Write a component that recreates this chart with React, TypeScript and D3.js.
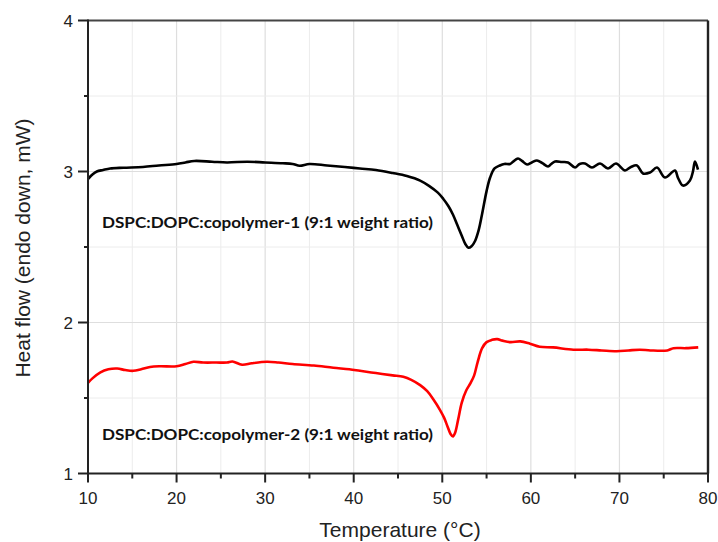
import React from "react";
import * as d3 from "d3";

const xTicks = [10, 20, 30, 40, 50, 60, 70, 80];
const xMinorTicks = [15, 25, 35, 45, 55, 65, 75];
const yTicks = [1, 2, 3, 4];
const yMinorTicks = [1.5, 2.5, 3.5];

const blackX = [10.0, 10.5, 11.0, 11.7, 12.5, 14.0, 16.2, 18.0, 20.0, 21.0, 22.0, 24.0, 25.7, 28.0, 30.0, 32.0, 33.1, 33.9, 35.0, 37.0, 39.0, 40.7, 42.5, 44.4, 46.0, 47.5, 48.5, 49.5, 50.1, 50.7, 51.2, 51.7, 52.2, 52.6, 52.95, 53.3, 53.7, 54.1, 54.5, 55.0, 55.4, 55.9, 56.5, 57.0, 57.65, 58.0, 58.55, 59.0, 59.57, 60.1, 60.69, 61.3, 61.94, 62.3, 62.73, 63.5, 64.19, 64.99, 65.5, 66.11, 66.9, 67.81, 68.71, 69.61, 70.63, 71.3, 71.98, 72.66, 73.45, 74.24, 75.14, 76.27, 76.6, 77.17, 77.96, 78.3, 78.53, 78.87];
const blackY = [2.95, 2.98, 3.0, 3.01, 3.02, 3.025, 3.03, 3.04, 3.05, 3.06, 3.07, 3.065, 3.06, 3.065, 3.06, 3.055, 3.05, 3.038, 3.05, 3.04, 3.03, 3.02, 3.01, 2.99, 2.97, 2.94, 2.905, 2.86, 2.82, 2.77, 2.715, 2.645, 2.575, 2.52, 2.495, 2.505, 2.54, 2.61, 2.72, 2.87, 2.96, 3.02, 3.04, 3.05, 3.05, 3.065, 3.086, 3.07, 3.046, 3.06, 3.073, 3.055, 3.033, 3.05, 3.066, 3.063, 3.06, 3.026, 3.05, 3.053, 3.026, 3.053, 3.02, 3.053, 3.007, 3.03, 3.04, 2.987, 2.993, 3.026, 2.96, 3.007, 2.96, 2.907, 2.94, 3.0, 3.066, 3.013];

const redX = [10.0, 10.5, 11.4, 12.3, 13.3, 14.2, 15.1, 16.0, 17.0, 18.1, 20.0, 21.0, 21.9, 23.0, 24.5, 25.7, 26.3, 27.4, 28.5, 30.2, 31.5, 33.1, 35.5, 37.7, 39.5, 40.7, 42.5, 44.4, 45.6, 46.5, 47.5, 48.3, 49.0, 49.7, 50.2, 50.6, 50.95, 51.2, 51.45, 51.8, 52.2, 52.7, 53.2, 53.6, 54.0, 54.5, 55.0, 55.6, 56.2, 56.8, 57.7, 58.8, 59.9, 61.0, 62.5, 64.8, 66.5, 68.0, 69.7, 71.0, 72.3, 73.5, 75.4, 76.1, 77.5, 78.9];
const redY = [1.6, 1.63, 1.67, 1.69, 1.695, 1.685, 1.68, 1.69, 1.705, 1.71, 1.71, 1.725, 1.74, 1.735, 1.735, 1.735, 1.742, 1.72, 1.73, 1.74, 1.735, 1.725, 1.715, 1.7, 1.69, 1.68, 1.665, 1.65, 1.64, 1.62, 1.585, 1.545, 1.49, 1.425, 1.37, 1.31, 1.26, 1.245, 1.27, 1.36, 1.47, 1.55, 1.6, 1.65, 1.74, 1.83, 1.87, 1.885, 1.89, 1.88, 1.87, 1.875, 1.86, 1.84, 1.835, 1.82, 1.82, 1.815, 1.81, 1.815, 1.82, 1.815, 1.815, 1.83, 1.83, 1.835];

const blackLabel = "DSPC:DOPC:copolymer-1 (9:1 weight ratio)";
const redLabel = "DSPC:DOPC:copolymer-2 (9:1 weight ratio)";
const xTitle = "Temperature (°C)";
const yTitle = "Heat flow (endo down, mW)";

const W = 718;
const H = 542;
const M = { left: 88, right: 10, top: 20.5, bottom: 68.5 };

export default function App() {
  const x = d3.scaleLinear().domain([10, 80]).range([M.left, W - M.right]);
  const y = d3.scaleLinear().domain([1, 4]).range([H - M.bottom, M.top]);
  const line = d3
    .line<[number, number]>()
    .x((d) => x(d[0]))
    .y((d) => y(d[1]))
    .curve(d3.curveCatmullRom.alpha(0.5));
  const blackPts: [number, number][] = blackX.map((v, i) => [v, blackY[i]]);
  const redPts: [number, number][] = redX.map((v, i) => [v, redY[i]]);
  const x0 = x(10), x1 = x(80), y0 = y(1), y1 = y(4);
  const sans = "'Liberation Sans', Arial, sans-serif";
  return (
    <svg width={W} height={H} style={{ position: "absolute", left: 0, top: 0, background: "#fff" }}>
      <rect x={0} y={0} width={W} height={H} fill="#fff" />
      {/* grid */}
      {xMinorTicks.map((t) => (
        <line key={"gxm" + t} x1={x(t)} x2={x(t)} y1={y1} y2={y0} stroke="#ececec" strokeWidth={1} />
      ))}
      {xTicks.slice(1, -1).map((t) => (
        <line key={"gx" + t} x1={x(t)} x2={x(t)} y1={y1} y2={y0} stroke="#dedede" strokeWidth={1.2} />
      ))}
      {yMinorTicks.map((t) => (
        <line key={"gym" + t} x1={x0} x2={x1} y1={y(t)} y2={y(t)} stroke="#ececec" strokeWidth={1} />
      ))}
      {yTicks.slice(1, -1).map((t) => (
        <line key={"gy" + t} x1={x0} x2={x1} y1={y(t)} y2={y(t)} stroke="#dedede" strokeWidth={1.2} />
      ))}
      {/* data */}
      <path d={line(blackPts) || ""} fill="none" stroke="#000" strokeWidth={2.6} strokeLinejoin="round" />
      <path d={line(redPts) || ""} fill="none" stroke="#ff0000" strokeWidth={2.6} strokeLinejoin="round" />
      {/* frame */}
      <line x1={x0} x2={x1} y1={y1} y2={y1} stroke="#444" strokeWidth={2} />
      <line x1={x1} x2={x1} y1={y1} y2={y0} stroke="#222" strokeWidth={2.4} />
      <line x1={x0} x2={x0} y1={y1 - 1} y2={y0 + 1} stroke="#222" strokeWidth={2} />
      <line x1={x0 - 1} x2={x1 + 1} y1={y0} y2={y0} stroke="#222" strokeWidth={2} />
      {/* x ticks */}
      {xTicks.map((t) => (
        <g key={"xt" + t}>
          <line x1={x(t)} x2={x(t)} y1={y0} y2={y0 + 9} stroke="#222" strokeWidth={2} />
          <text x={x(t)} y={y0 + 30} textAnchor="middle" fontFamily={sans} fontSize={17} fill="#222">
            {t}
          </text>
        </g>
      ))}
      {xMinorTicks.map((t) => (
        <line key={"xm" + t} x1={x(t)} x2={x(t)} y1={y0} y2={y0 + 5} stroke="#222" strokeWidth={2} />
      ))}
      {/* y ticks */}
      {yTicks.map((t) => (
        <g key={"yt" + t}>
          <line x1={x0} x2={x0 - 10} y1={y(t)} y2={y(t)} stroke="#222" strokeWidth={2} />
          <text x={x0 - 15} y={y(t) + 6} textAnchor="end" fontFamily={sans} fontSize={17} fill="#222">
            {t}
          </text>
        </g>
      ))}
      {yMinorTicks.map((t) => (
        <line key={"ym" + t} x1={x0} x2={x0 - 4} y1={y(t)} y2={y(t)} stroke="#222" strokeWidth={2} />
      ))}
      {/* titles */}
      <text x={400} y={537} textAnchor="middle" fontFamily={sans} fontSize={21} fill="#222">
        {xTitle}
      </text>
      <text
        transform={`translate(30, 248) rotate(-90)`}
        textAnchor="middle"
        fontFamily={sans}
        fontSize={21}
        fill="#222"
      >
        {yTitle}
      </text>
      {/* annotations */}
      <text x={102} y={228} fontFamily="Lato, 'Open Sans', sans-serif" fontWeight="bold" fontSize={15} fill="#111"
        textLength={331} lengthAdjust="spacingAndGlyphs">
        {blackLabel}
      </text>
      <text x={102} y={440} fontFamily="Lato, 'Open Sans', sans-serif" fontWeight="bold" fontSize={15} fill="#111"
        textLength={331} lengthAdjust="spacingAndGlyphs">
        {redLabel}
      </text>
    </svg>
  );
}
